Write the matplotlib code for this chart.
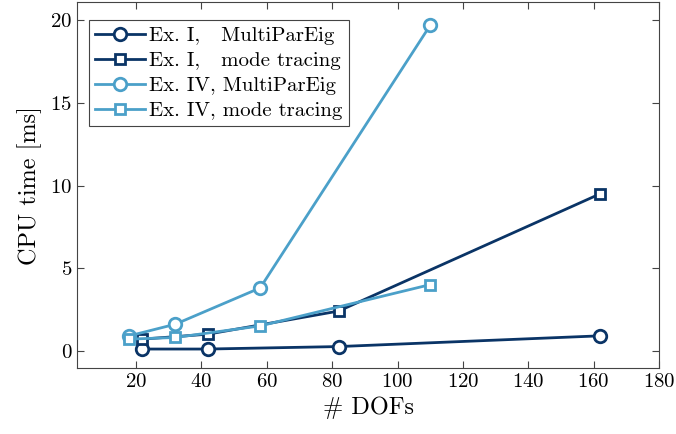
import matplotlib
matplotlib.use("Agg")
import matplotlib.pyplot as plt
from matplotlib import rcParams

rcParams["font.family"] = "cmr10"
rcParams["mathtext.fontset"] = "cm"
rcParams["axes.formatter.use_mathtext"] = True

# data
dofs_ex1 = [22, 42, 82, 162]
ex1_mpe = [0.1, 0.1, 0.25, 0.9]
ex1_trace = [0.7, 1.0, 2.4, 9.5]

dofs_ex4 = [18, 32, 58, 110]
ex4_mpe = [0.9, 1.6, 3.8, 19.7]
ex4_trace = [0.7, 0.8, 1.5, 4.0]

DARK = "#0a3466"
LIGHT = "#4ba0c9"

fig = plt.figure(figsize=(6.76, 4.34), dpi=100)
ax = fig.add_axes([0.114, 0.152, 0.861, 0.843])

ax.plot(dofs_ex1, ex1_mpe, "-o", color=DARK, lw=2.0, ms=9, mfc="white",
        mew=2.0, label="Ex. I,   MultiParEig")
ax.plot(dofs_ex1, ex1_trace, "-s", color=DARK, lw=2.0, ms=7, mfc="white",
        mew=2.0, label="Ex. I,   mode tracing")
ax.plot(dofs_ex4, ex4_mpe, "-o", color=LIGHT, lw=2.0, ms=9, mfc="white",
        mew=2.0, label="Ex. IV, MultiParEig")
ax.plot(dofs_ex4, ex4_trace, "-s", color=LIGHT, lw=2.0, ms=7, mfc="white",
        mew=2.0, label="Ex. IV, mode tracing")

ax.set_xlim(2, 180)
ax.set_ylim(-1.05, 21.1)
ax.set_xticks(range(20, 181, 20))
ax.set_yticks([0, 5, 10, 15, 20])
ax.tick_params(direction="in", top=True, right=True, labelsize=15,
               length=5, color="#444444")
for s in ax.spines.values():
    s.set_color("#444444")
    s.set_linewidth(0.8)

ax.set_xlabel("# DOFs", fontsize=17.5)
ax.set_ylabel("CPU time [ms]", fontsize=17.5, labelpad=6)

leg = ax.legend(loc="upper left", fontsize=15, fancybox=False,
                edgecolor="#444444", framealpha=1, handlelength=2.4,
                handletextpad=0.2, borderpad=0.3, labelspacing=0.3,
                borderaxespad=0, bbox_to_anchor=(0.02, 0.95))
leg.get_frame().set_linewidth(0.8)

fig.savefig("out.png", dpi=100)
